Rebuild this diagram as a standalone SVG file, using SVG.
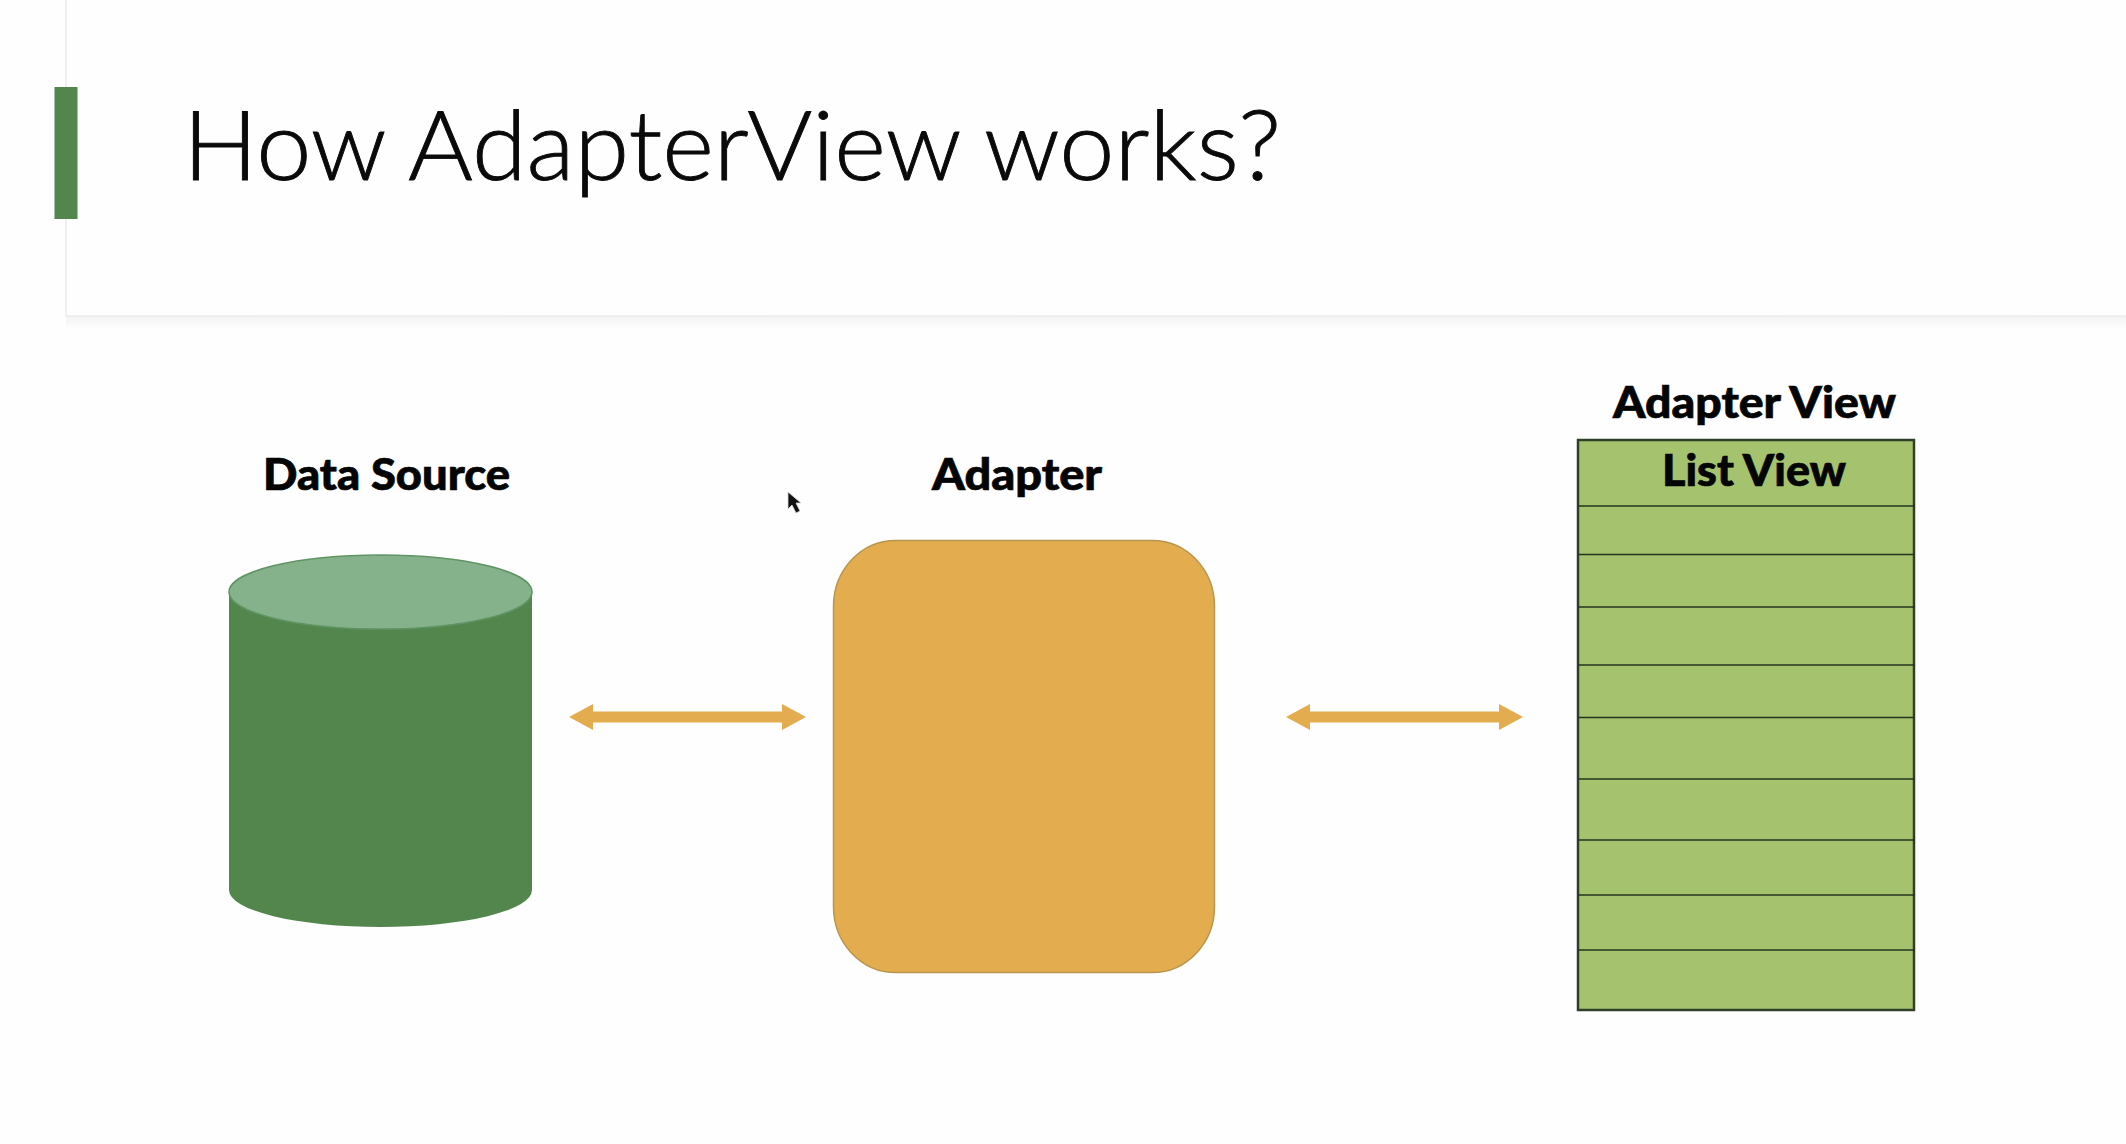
<svg xmlns="http://www.w3.org/2000/svg" width="2126" height="1144" viewBox="0 0 2126 1144">
<style>
.lbl{font-family:"Lato","Liberation Sans",sans-serif;font-weight:900;fill:#050505;stroke:#050505;stroke-width:0.7;font-size:43px}
.title{font-family:"Lato","Liberation Sans",sans-serif;font-weight:300;fill:#0a0a0a;stroke:#0a0a0a;stroke-width:0.9;font-size:97px}
.row{stroke:#26331f;stroke-width:1.6}
.arrow{stroke:#E3AC4E;stroke-width:11;fill:none;marker-start:url(#headL);marker-end:url(#headR)}
</style>
<defs>
<marker id="headR" markerUnits="userSpaceOnUse" markerWidth="26" markerHeight="28" refX="1" refY="14" orient="0"><path d="M1 1L25 14L1 27Z" fill="#E3AC4E"/></marker>
<marker id="headL" markerUnits="userSpaceOnUse" markerWidth="26" markerHeight="28" refX="25" refY="14" orient="0"><path d="M25 1L1 14L25 27Z" fill="#E3AC4E"/></marker>
<linearGradient id="shadow" x1="0" y1="0" x2="0" y2="1"><stop offset="0" stop-color="#f3f3f3"/><stop offset="1" stop-color="#ffffff"/></linearGradient>
</defs>
<rect width="2126" height="1144" fill="#fefefe"/>
<g id="header">
<rect x="66" y="316" width="2060" height="14" fill="url(#shadow)"/>
<path d="M66 0V316H2126" fill="none" stroke="#ebebeb" stroke-width="1.5"/>
<rect x="54.500" y="87" width="23" height="132" fill="#52864D"/>
<text class="title" x="183" y="180" textLength="1098" lengthAdjust="spacingAndGlyphs">How AdapterView works?</text>
</g>
<g id="data-source">
<path d="M229 592V890A151.500 37 0 0 0 532 890V592Z" fill="#52864D"/>
<ellipse cx="380.500" cy="592" rx="151.500" ry="37" fill="#86B28B" stroke="#5f9463" stroke-width="1.500"/>
<text class="lbl" x="263" y="490" textLength="247" lengthAdjust="spacingAndGlyphs">Data Source</text>
</g>
<g id="adapter">
<rect x="833.500" y="540.500" width="381" height="432" rx="62" ry="66" fill="#E3AC4E" stroke="#b8964f" stroke-width="1.500"/>
<text class="lbl" x="932" y="490" textLength="170" lengthAdjust="spacingAndGlyphs">Adapter</text>
</g>
<g id="adapter-view">
<rect x="1578" y="440" width="336" height="570" fill="#A5C26E" stroke="#2f4028" stroke-width="2.500"/>
<path class="row" d="M1578 506H1915M1578 554.500H1915M1578 607H1915M1578 665H1915M1578 717.500H1915M1578 779H1915M1578 840H1915M1578 895H1915M1578 950H1915"/>
<text class="lbl" x="1613" y="418" textLength="283" lengthAdjust="spacingAndGlyphs">Adapter View</text>
<text class="lbl" x="1662" y="486" textLength="184" lengthAdjust="spacingAndGlyphs">List View</text>
</g>
<g id="connectors">
<line class="arrow" x1="593" y1="717" x2="782" y2="717"/>
<line class="arrow" x1="1310" y1="717" x2="1499" y2="717"/>
</g>
<path id="cursor" d="M788 492L788 509L792 505L796 513L800 511L796 503L801 503Z" fill="#111" stroke="#d8d8d8" stroke-width="0.800"/>
</svg>
